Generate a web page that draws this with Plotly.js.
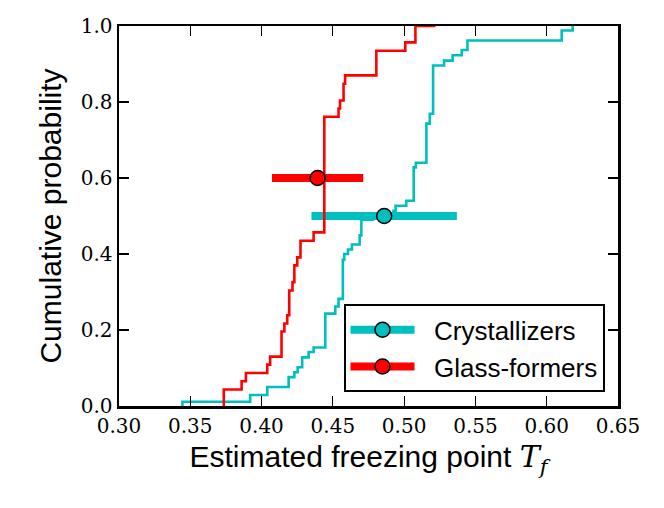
<!DOCTYPE html>
<html>
<head>
<meta charset="utf-8">
<script src="https://cdn.plot.ly/plotly-3.0.1.min.js"></script>
<style>
  html, body { margin: 0; padding: 0; background: #fff; }
  #chart { width: 664px; height: 508px; }
</style>
</head>
<body>
<div id="chart"></div>
<script>
const crystX = [0.3445, 0.3445, 0.392, 0.404, 0.419, 0.423, 0.4253, 0.4285, 0.433, 0.4365,
  0.4447, 0.4517, 0.454, 0.457, 0.458, 0.4606, 0.4634, 0.4688, 0.470, 0.478, 0.4925, 0.494,
  0.5015, 0.5067, 0.5082, 0.5156, 0.518, 0.5203, 0.528, 0.534, 0.5404, 0.5444, 0.6105, 0.6182];
const crystY = [0, 0.011, 0.029, 0.050, 0.076, 0.089, 0.102, 0.128, 0.142, 0.154,
  0.243, 0.262, 0.282, 0.385, 0.400, 0.412, 0.425, 0.449, 0.490, 0.501, 0.514, 0.527,
  0.540, 0.628, 0.640, 0.743, 0.769, 0.896, 0.909, 0.923, 0.937, 0.962, 0.988, 1.0];

const glassX = [0.3735, 0.3735, 0.386, 0.389, 0.404, 0.406, 0.414, 0.416, 0.418, 0.4194,
  0.4217, 0.423, 0.425, 0.4273, 0.4365, 0.444, 0.454, 0.455, 0.4575, 0.4586, 0.4805,
  0.5008, 0.5079, 0.522];
const glassY = [0, 0.0435, 0.065, 0.087, 0.109, 0.130, 0.196, 0.217, 0.239, 0.304,
  0.326, 0.370, 0.391, 0.435, 0.457, 0.761, 0.783, 0.804, 0.848, 0.870, 0.935,
  0.957, 1.0, 1.0];

// mean estimate and spread for each group
const crystMean = 0.486, crystLevel = 0.5, crystErr = 0.051;
const glassMean = 0.4393, glassLevel = 0.6, glassErr = 0.032;

const cyan = "#00bfbf";
const red = "#ff0000";
const serif = "DejaVu Serif, Liberation Serif, serif";
const sans = "Liberation Sans, Arial, Helvetica, sans-serif";

function errTrace(name, x, y, err, color) {
  return {
    x: [x], y: [y], name: "&nbsp;&nbsp;" + name, mode: "lines+markers",
    line: { color: color, width: 8 },
    marker: { size: 15, color: color, line: { color: "#000", width: 1.5 } },
    error_x: { type: "data", array: [err], color: color, thickness: 8, width: 0 },
  };
}

const traces = [
  { x: crystX, y: crystY, mode: "lines", showlegend: false, hoverinfo: "skip",
    line: { color: cyan, width: 2.6, shape: "hv" } },
  errTrace("Crystallizers", crystMean, crystLevel, crystErr, cyan),
  { x: glassX, y: glassY, mode: "lines", showlegend: false, hoverinfo: "skip",
    line: { color: red, width: 2.6, shape: "hv" } },
  errTrace("Glass-formers", glassMean, glassLevel, glassErr, red),
];

const axisCommon = {
  showgrid: false, zeroline: false,
  showline: true, linecolor: "#000", linewidth: 2.5, mirror: "allticks",
  ticks: "inside", ticklen: 10, tickwidth: 1.2, tickcolor: "#000",
  tickfont: { family: serif, size: 20, color: "#000" },
};

const layout = {
  width: 664, height: 508,
  margin: { l: 119, r: 46, t: 26, b: 102 },
  paper_bgcolor: "#fff", plot_bgcolor: "#fff",
  showlegend: true,
  xaxis: Object.assign({}, axisCommon, {
    range: [0.30, 0.65], dtick: 0.05, tick0: 0.30, tickformat: ".2f",
    title: {
      text: "Estimated freezing point <span style=\"font-family:" + serif + "\"><i>T</i><sub><i>f</i></sub></span>",
      font: { family: sans, size: 30, color: "#000" }, standoff: 10,
    },
  }),
  yaxis: Object.assign({}, axisCommon, {
    range: [0, 1], dtick: 0.2, tick0: 0, tickformat: ".1f",
    title: { text: "Cumulative probability", font: { family: sans, size: 30, color: "#000" }, standoff: 10 },
  }),
  legend: {
    x: 0.973, y: 0.036, xanchor: "right", yanchor: "bottom",
    bgcolor: "#fff", bordercolor: "#000", borderwidth: 2,
    font: { family: sans, size: 26, color: "#000" },
    itemwidth: 64,
  },
};

Plotly.newPlot("chart", traces, layout, { staticPlot: true });
</script>
</body>
</html>
